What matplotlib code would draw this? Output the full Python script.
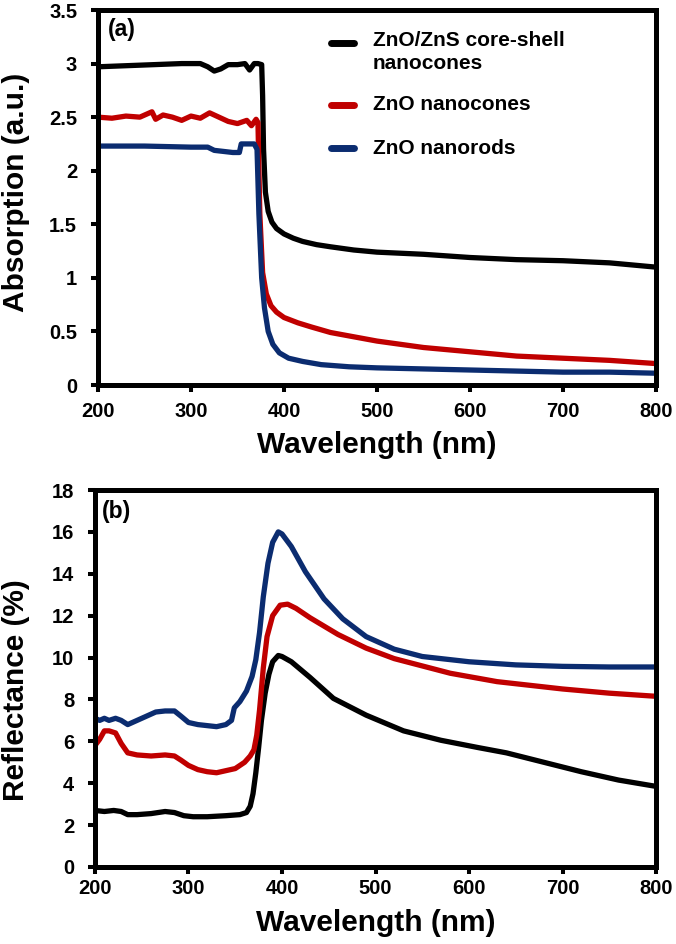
import matplotlib
matplotlib.use("Agg")
import matplotlib.pyplot as plt
from matplotlib.lines import Line2D

plt.rcParams['font.family'] = ['Liberation Sans', 'DejaVu Sans']
plt.rcParams['font.weight'] = 'bold'

# ---------------- Panel (a): Absorption ----------------
abs_core_wl = [200, 230, 260, 290, 310, 318, 325, 332, 340, 350, 358, 363, 368, 372, 376, 377, 378,
               380, 383, 387, 392, 400, 410, 420, 435, 450, 475, 500, 550, 600, 650, 700, 750, 800]
abs_core_val = [2.97, 2.98, 2.99, 3.00, 3.00, 2.97, 2.93, 2.95, 2.99, 2.99, 3.00, 2.94, 3.00, 3.00, 2.99, 2.7, 2.2,
                1.80, 1.62, 1.52, 1.46, 1.41, 1.37, 1.34, 1.31, 1.29, 1.26, 1.24, 1.22, 1.19, 1.17, 1.16, 1.14, 1.10]

abs_cone_wl = [200, 215, 230, 245, 258, 262, 270, 280, 290, 300, 310, 320, 330, 340, 350, 360, 365, 370, 372,
               374, 377, 381, 386, 392, 400, 415, 430, 450, 475, 500, 550, 600, 650, 700, 750, 800]
abs_cone_val = [2.50, 2.49, 2.51, 2.50, 2.55, 2.48, 2.52, 2.50, 2.47, 2.51, 2.49, 2.54, 2.50, 2.46, 2.44, 2.47, 2.42, 2.48, 2.45,
                1.60, 1.05, 0.85, 0.74, 0.68, 0.63, 0.58, 0.54, 0.49, 0.45, 0.41, 0.35, 0.31, 0.27, 0.25, 0.23, 0.20]

abs_rod_wl = [200, 250, 300, 318, 325, 335, 345, 352, 354, 360, 368, 371, 373, 376, 379, 383, 388,
              395, 405, 420, 440, 470, 500, 550, 600, 650, 700, 750, 800]
abs_rod_val = [2.23, 2.23, 2.22, 2.22, 2.19, 2.18, 2.17, 2.17, 2.25, 2.25, 2.25, 2.20, 1.6, 1.0, 0.72, 0.50, 0.38,
               0.30, 0.25, 0.22, 0.19, 0.17, 0.16, 0.15, 0.14, 0.13, 0.12, 0.12, 0.11]

# ---------------- Panel (b): Reflectance ----------------
ref_rod_wl = [200, 205, 210, 215, 222, 228, 235, 245, 255, 265, 275, 285, 292, 300, 310, 320, 330, 340, 346,
              349, 355, 362, 368, 372, 376, 380, 385, 390, 396, 400, 410, 425, 445, 465, 490, 520, 550,
              600, 650, 700, 750, 800]
ref_rod_val = [7.1, 7.0, 7.1, 7.0, 7.1, 7.0, 6.8, 7.0, 7.2, 7.4, 7.45, 7.45, 7.2, 6.9, 6.8, 6.75, 6.7, 6.8, 7.0,
               7.6, 7.9, 8.4, 9.1, 9.9, 11.2, 12.9, 14.5, 15.5, 16.0, 15.9, 15.3, 14.1, 12.8, 11.85, 11.0, 10.4, 10.05,
               9.8, 9.65, 9.58, 9.55, 9.55]

ref_cone_wl = [200, 205, 210, 215, 222, 228, 235, 245, 260, 275, 285, 292, 300, 310, 320, 330, 340, 350,
               360, 366, 370, 373, 376, 380, 384, 390, 398, 406, 415, 430, 460, 490, 520, 550, 580, 630,
               700, 750, 800]
ref_cone_val = [5.8, 6.1, 6.5, 6.5, 6.4, 5.9, 5.45, 5.35, 5.3, 5.35, 5.3, 5.1, 4.85, 4.65, 4.55, 4.5, 4.6, 4.7,
                5.0, 5.3, 5.6, 6.3, 7.5, 9.5, 11.0, 12.0, 12.5, 12.55, 12.35, 11.9, 11.1, 10.45, 9.95, 9.6, 9.25, 8.85,
                8.5, 8.3, 8.15]

ref_core_wl = [200, 210, 220, 228, 235, 245, 260, 275, 285, 295, 305, 320, 340, 355, 362, 366, 369, 372,
               375, 378, 382, 386, 390, 396, 400, 410, 430, 455, 490, 530, 570, 610, 640, 680, 720,
               760, 800]
ref_core_val = [2.7, 2.65, 2.7, 2.65, 2.5, 2.5, 2.55, 2.65, 2.6, 2.45, 2.4, 2.4, 2.45, 2.5, 2.6, 2.9, 3.5, 4.5,
                5.7, 7.0, 8.3, 9.2, 9.8, 10.1, 10.05, 9.8, 9.05, 8.05, 7.25, 6.5, 6.05, 5.7, 5.45, 5.0, 4.55,
                4.15, 3.85]

labels = ['ZnO/ZnS core-shell\nnanocones', 'ZnO nanocones', 'ZnO nanorods']
colors = ['#000000', '#c00000', '#0b2c70']

xticks = [200, 300, 400, 500, 600, 700, 800]
yticks_a = [0, 0.5, 1, 1.5, 2, 2.5, 3, 3.5]
ytick_labels_a = ['0', '0.5', '1', '1.5', '2', '2.5', '3', '3.5']
yticks_b = [0, 2, 4, 6, 8, 10, 12, 14, 16, 18]

W, H = 676, 944
fig = plt.figure(figsize=(W / 100, H / 100), dpi=100)

axa = fig.add_axes([98 / W, 1 - 385 / H, (656 - 98) / W, (385 - 10) / H])
axb = fig.add_axes([95 / W, 1 - 867 / H, (656 - 95) / W, (867 - 490) / H])

lw = 3.8
axa.plot(abs_core_wl, abs_core_val, color=colors[0], lw=lw, solid_joinstyle='round')
axa.plot(abs_cone_wl, abs_cone_val, color=colors[1], lw=lw, solid_joinstyle='round')
axa.plot(abs_rod_wl, abs_rod_val, color=colors[2], lw=lw, solid_joinstyle='round')

axb.plot(ref_core_wl, ref_core_val, color=colors[0], lw=lw, solid_joinstyle='round')
axb.plot(ref_cone_wl, ref_cone_val, color=colors[1], lw=lw, solid_joinstyle='round')
axb.plot(ref_rod_wl, ref_rod_val, color=colors[2], lw=lw, solid_joinstyle='round')

for ax in (axa, axb):
    ax.set_xlim(200, 800)
    ax.set_xticks(xticks)
    ax.set_xticklabels([str(v) for v in xticks], fontweight='bold')
    for s in ax.spines.values():
        s.set_linewidth(3.6)
    ax.tick_params(axis='both', direction='out', length=5, width=2.9, labelsize=14.5,
                   top=False, right=False)
    ax.tick_params(axis='y', pad=10)
    ax.set_xlabel('Wavelength (nm)', fontsize=21.5, fontweight='bold')

axa.tick_params(axis='x', pad=7)
axb.tick_params(axis='x', pad=3.5)

axa.set_ylim(0, 3.5)
axa.set_yticks(yticks_a)
axa.set_yticklabels(ytick_labels_a, fontweight='bold')
axa.set_ylabel('Absorption (a.u.)', fontsize=21.5, fontweight='bold')
axa.yaxis.set_label_coords(-0.122, 0.515)
axa.xaxis.set_label_coords(0.5, -0.122)

axb.set_ylim(0, 18)
axb.set_yticks(yticks_b)
axb.set_yticklabels([str(v) for v in yticks_b], fontweight='bold')
axb.set_ylabel('Reflectance (%)', fontsize=21.5, fontweight='bold')
axb.yaxis.set_label_coords(-0.116, 0.47)
axb.xaxis.set_label_coords(0.5, -0.111)

axa.text(0.018, 0.947, '(a)', transform=axa.transAxes, fontsize=16.5, fontweight='bold', va='center')
axb.text(0.012, 0.942, '(b)', transform=axb.transAxes, fontsize=16.5, fontweight='bold', va='center')

# legend (panel a), drawn manually to match layout
leg_y = [0.912, 0.747, 0.632]
for lab, col, yy in zip(labels, colors, leg_y):
    axa.add_line(Line2D([0.418, 0.458], [yy, yy], transform=axa.transAxes, color=col, lw=5,
                        solid_capstyle='round'))
    if '\n' in lab:
        axa.text(0.492, yy + 0.033, lab, transform=axa.transAxes, fontsize=15, fontweight='bold',
                 va='top', linespacing=1.3)
    else:
        axa.text(0.492, yy, lab, transform=axa.transAxes, fontsize=15, fontweight='bold',
                 va='center')

fig.savefig('out.png', dpi=100)
